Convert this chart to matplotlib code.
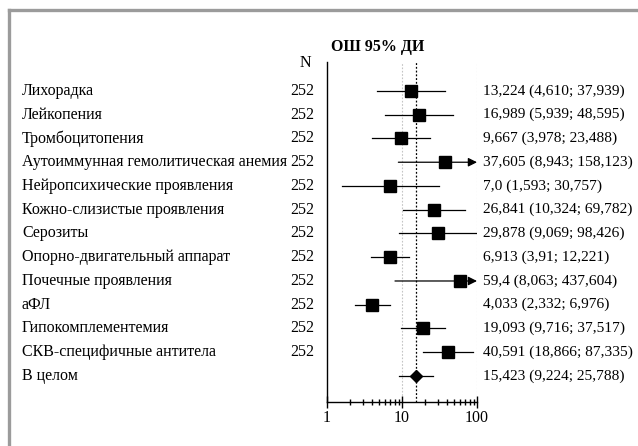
import numpy as np
import matplotlib
matplotlib.use("Agg")
import matplotlib.pyplot as plt
from matplotlib.lines import Line2D
from matplotlib.transforms import blended_transform_factory

plt.rcParams['font.family'] = ['Liberation Serif', 'DejaVu Serif']

# данные
labels = ['Лихорадка', 'Лейкопения', 'Тромбоцитопения',
          'Аутоиммунная гемолитическая анемия', 'Нейропсихические проявления',
          'Кожно-слизистые проявления', 'Серозиты', 'Опорно-двигательный аппарат',
          'Почечные проявления', 'аФЛ', 'Гипокомплементемия',
          'СКВ-специфичные антитела', 'В целом']
n_vals = ['252'] * 12 + ['']
odds = [13.224, 16.989, 9.667, 37.605, 7.0, 26.841, 29.878, 6.913, 59.4,
        4.033, 19.093, 40.591, 15.423]
lower = [4.610, 5.939, 3.978, 8.943, 1.593, 10.324, 9.069, 3.91, 8.063,
         2.332, 9.716, 18.866, 9.224]
upper = [37.939, 48.595, 23.488, 158.123, 30.757, 69.782, 98.426, 12.221,
         437.604, 6.976, 37.517, 87.335, 25.788]
ci_text = ['13,224 (4,610; 37,939)', '16,989 (5,939; 48,595)',
           '9,667 (3,978; 23,488)', '37,605 (8,943; 158,123)',
           '7,0 (1,593; 30,757)', '26,841 (10,324; 69,782)',
           '29,878 (9,069; 98,426)', '6,913 (3,91; 12,221)',
           '59,4 (8,063; 437,604)', '4,033 (2,332; 6,976)',
           '19,093 (9,716; 37,517)', '40,591 (18,866; 87,335)',
           '15,423 (9,224; 25,788)']
pooled = 15.423
xmin, xmax = 1, 100

W, H = 638, 446
fig = plt.figure(figsize=(W / 100, H / 100), dpi=100)
fig.patch.set_facecolor('white')

# рамка
fig.add_artist(Line2D([9 / W, 1], [1 - 10 / H, 1 - 10 / H], color='#9b9b9b', lw=2.4))
fig.add_artist(Line2D([9 / W, 9 / W], [0, 1 - 10 / H], color='#9b9b9b', lw=2.4))

ax = fig.add_axes([327 / W, 1 - 402 / H, 150 / W, 340 / H])
ax.set_xscale('log')
ax.set_xlim(xmin, xmax)
nrows = len(labels)
ax.set_ylim(nrows - 1 + 1.095, -1.22)

for s in ['top', 'right']:
    ax.spines[s].set_visible(False)
ax.spines['left'].set_linewidth(1.0)
ax.spines['bottom'].set_linewidth(1.0)
ax.set_yticks([])
ax.set_xticks([1, 10, 100])
ax.set_xticklabels(['1', '10', '100'])
ax.tick_params(axis='x', which='major', direction='inout', length=9, width=1,
               labelsize=11.5, pad=1)
ax.tick_params(axis='x', which='minor', direction='inout', length=5, width=1)

for v in [10, 100]:
    ax.axvline(v, color='#c4c4c4', lw=0.8, ls=(0, (1.5, 1.5)), zorder=1)
ax.axvline(pooled, color='black', lw=0.9, ls=(0, (1.5, 1.5)), zorder=2)

for i in range(nrows):
    lo, hi = lower[i], upper[i]
    if hi > xmax:
        ax.annotate('', xy=(xmax, i), xytext=(lo, i),
                    arrowprops=dict(arrowstyle='-|>', color='black', lw=0.9,
                                    mutation_scale=13, shrinkA=0, shrinkB=0))
    else:
        ax.plot([lo, hi], [i, i], color='black', lw=0.9, zorder=3)
    if i == nrows - 1:
        ax.plot(odds[i], i, marker='D', color='black', markersize=6, zorder=4)
    else:
        ax.plot(odds[i], i, marker='s', color='black', markersize=8.8, zorder=4)

tr = blended_transform_factory(fig.transFigure, ax.transData)
fs = 11.5
for i in range(nrows):
    ax.text(22 / W, i, labels[i], transform=tr, ha='left', va='center', fontsize=fs)
    ax.text(290 / W, i, n_vals[i], transform=tr, ha='left', va='center', fontsize=fs)
    ax.text(483 / W, i, ci_text[i], transform=tr, ha='left', va='center', fontsize=11.1)

ax.text(300 / W, -1.18, 'N', transform=tr, ha='left', va='center', fontsize=fs)
ax.text(378 / W, -1.85, 'ОШ 95% ДИ', transform=tr, ha='center', va='center',
        fontsize=fs, fontweight='bold')

fig.savefig('out.png', dpi=100)
